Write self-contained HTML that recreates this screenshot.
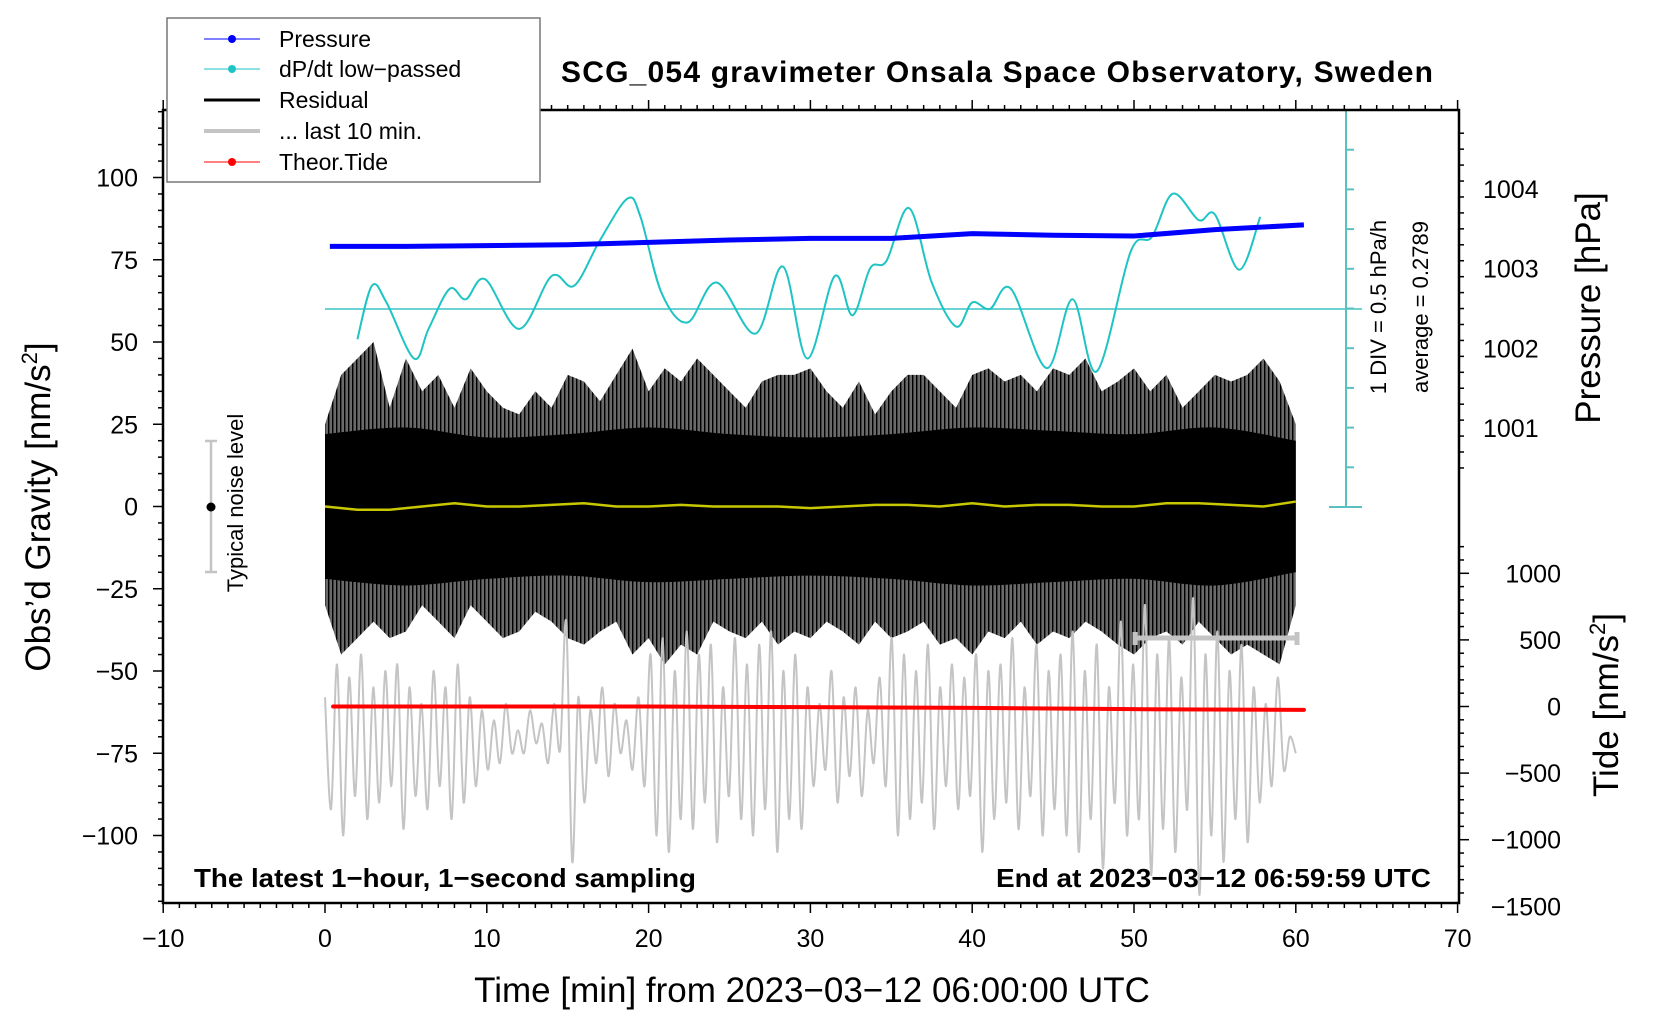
<!DOCTYPE html>
<html><head><meta charset="utf-8"><style>
html,body{margin:0;padding:0;background:#fff;}
svg{display:block;font-family:"Liberation Sans",sans-serif;}
</style></head><body>
<svg id="c" width="1660" height="1020" viewBox="0 0 1660 1020" xmlns="http://www.w3.org/2000/svg">
<defs><pattern id="spk" width="4" height="10" patternUnits="userSpaceOnUse"><rect x="0" y="0" width="1.6" height="10" fill="#000"/><rect x="1.6" y="0" width="2.4" height="10" fill="#6a6a6a"/></pattern></defs>
</svg>
<script>
// ---- data ----
const pressureTimes = [0.3,5,10,15,20,25,30,35,40,45,50,55,60.5];
const pressureVals = [1003.28,1003.28,1003.29,1003.30,1003.33,1003.36,1003.38,1003.38,1003.44,1003.42,1003.41,1003.49,1003.55];
const dpdtTimes = [2.0,2.9,3.8,5.5,6.4,7.7,8.7,9.9,12,14,15.4,17,18.7,19.5,20.8,22.4,24.2,26.6,28.3,29.8,31.5,32.6,33.7,34.7,36.1,37.5,39,40,41.1,42.4,44.6,46.2,47.7,49.8,51.1,52.4,54,55,56.5,57.8];
const dpdtVals = [-0.10,0.57,0.36,-0.34,0.03,0.53,0.40,0.65,0.03,0.69,0.57,1.14,1.66,1.43,0.48,0.11,0.61,-0.03,0.81,-0.34,0.69,0.20,0.79,0.88,1.54,0.61,0.06,0.36,0.28,0.53,-0.46,0.40,-0.50,1.00,1.18,1.72,1.39,1.46,0.77,1.43];
const dpdtAverage = 0.2789;
const residHi = [25,40,45,50,30,45,35,40,30,42,35,30,28,35,30,40,38,32,40,48,35,42,38,45,40,35,30,38,40,40,42,35,30,38,28,35,40,40,35,30,40,42,38,40,35,42,40,45,35,38,42,35,40,30,35,40,38,40,45,38,25];
const residLo = [-30,-45,-40,-35,-40,-38,-30,-35,-40,-30,-35,-40,-38,-32,-35,-40,-42,-38,-35,-45,-40,-48,-42,-45,-35,-38,-40,-35,-42,-38,-40,-35,-38,-42,-35,-40,-38,-35,-42,-40,-45,-38,-40,-35,-42,-38,-40,-35,-38,-42,-45,-40,-38,-42,-35,-40,-45,-42,-45,-48,-30];
const coreHi = [22,24,21,22,24,22,21,22,24,23,22,24,20];
const coreLo = [-22,-24,-22,-21,-23,-22,-21,-22,-24,-23,-22,-24,-20];
const meanVals = [0,-1,-1,0,1,0,0,0.5,1,0,0,0.5,0,0,0,-0.5,0,0.5,0.5,0,1,0,0.5,0.5,0,0,1,1,0.5,0,1.5];
const tideTimes = [0.5,10,20,30,40,50,60.5];
const tideVals = [0,0,0,-5,-10,-20,-25];
const lastVals = [-58,-92,-48,-100,-52,-88,-45,-95,-55,-90,-50,-85,-48,-98,-55,-88,-60,-92,-50,-85,-55,-95,-48,-90,-58,-85,-62,-80,-65,-78,-60,-75,
-68,-75,-62,-72,-66,-78,-60,-74,
-35,-108,-58,-90,-62,-78,-55,-82,-60,-75,-65,-80,-58,-85,
-45,-100,-40,-105,-50,-95,-38,-98,-45,-90,-42,-102,-55,-88,-40,-95,-48,-100,-42,-92,-38,-105,-50,-95,-45,-98,
-55,-85,-60,-80,-50,-90,-58,-82,-55,-88,-62,-78,-52,-85,
-40,-100,-45,-95,-50,-90,-42,-98,-55,-85,-48,-92,-52,-88,
-45,-105,-50,-95,-48,-90,-40,-98,-55,-88,-42,-100,-50,-92,
-45,-100,-38,-105,-50,-95,-42,-110,-55,-90,-35,-100,-48,-95,-30,-112,-45,-98,-40,-105,-52,-92,-28,-118,-45,-100,-38,-108,-50,-95,-42,-102,-55,-90,-60,-85,-52,-80,-70,-75];
const lastStart = 0, lastEnd = 60;
const xTicks = [-10,0,10,20,30,40,50,60,70];
const yTicks = [-100,-75,-50,-25,0,25,50,75,100];
const pTicks = [1001,1002,1003,1004];
const tTicks = [-1500,-1000,-500,0,500,1000];

// ---- axes ----
const L=163,R=1459,T=110,B=903;
const X=t=>325+t*16.18;
const Y=v=>506.5-v*3.29;
const YP=p=>189-(p-1004)*79.7;
const YT=v=>706.5-v*0.1332;
const YR=r=>309-(r-dpdtAverage)*80;
const svg=document.getElementById('c');
const NS='http://www.w3.org/2000/svg';
function mk(tag,attrs,parent){const e=document.createElementNS(NS,tag);for(const k in attrs)e.setAttribute(k,attrs[k]);(parent||svg).appendChild(e);return e;}
function smooth(pts){let d='M'+pts[0][0]+','+pts[0][1];for(let i=0;i<pts.length-1;i++){const p0=pts[i-1]||pts[i],p1=pts[i],p2=pts[i+1],p3=pts[i+2]||p2;const c1x=p1[0]+(p2[0]-p0[0])/6,c1y=p1[1]+(p2[1]-p0[1])/6,c2x=p2[0]-(p3[0]-p1[0])/6,c2y=p2[1]-(p3[1]-p1[1])/6;d+=` C${c1x},${c1y} ${c2x},${c2y} ${p2[0]},${p2[1]}`;}return d;}
function txt(s,x,y,size,attrs){const e=mk('text',Object.assign({x:x,y:y,'font-size':size},attrs||{}));e.textContent=s;return e;}

// residual band
let ptsHi=residHi.map((v,i)=>[X(i),Y(v)]), ptsLo=residLo.map((v,i)=>[X(i),Y(v)]);
let band=mk('path',{d:'M'+ptsHi.map(p=>p.join(',')).join(' L')+' L'+ptsLo.reverse().map(p=>p.join(',')).join(' L')+'Z',fill:'url(#spk)'});


let cH=coreHi.map((v,i)=>[X(i*5),Y(v)]), cL=coreLo.map((v,i)=>[X(i*5),Y(v)]);
let core=mk('path',{d:smooth(cH)+' L'+smooth(cL.reverse()).slice(1)+'Z',fill:'#000'});


// residual mean
let mean=mk('path',{d:'M'+meanVals.map((v,i)=>X(i*2)+','+Y(v)).join(' L'),fill:'none',stroke:'#c8c800','stroke-width':2.5});


// last 10 min / gray
const n=lastVals.length;
let gp=lastVals.map((v,i)=>[X(lastStart+(lastEnd-lastStart)*i/(n-1)),Y(v)]);
let gray=mk('path',{d:smooth(gp),fill:'none',stroke:'#c4c4c4','stroke-width':2});


// tide
let tide=mk('path',{d:'M'+tideTimes.map((t,i)=>X(t)+','+YT(tideVals[i])).join(' L'),fill:'none',stroke:'#f00','stroke-width':4,'stroke-linecap':'round'});


// cyan avg line & bracket
let avg=mk('line',{x1:X(0),x2:1362,y1:YR(dpdtAverage),y2:YR(dpdtAverage),stroke:'#3cc4c4','stroke-width':1.5});


let cg=mk('g',{stroke:'#5bc0c0','stroke-width':2});


mk('line',{x1:1346,x2:1346,y1:110,y2:507},cg);
mk('line',{x1:1329,x2:1362,y1:110,y2:110},cg);
mk('line',{x1:1329,x2:1362,y1:507,y2:507},cg);
for(let k=1;k<10;k++){mk('line',{x1:1346,x2:1354,y1:507-k*39.7,y2:507-k*39.7},cg);}
// dpdt
let dp=mk('path',{d:smooth(dpdtTimes.map((t,i)=>[X(t),YR(dpdtVals[i])])),fill:'none',stroke:'#1ec4c4','stroke-width':2});


// pressure
let pr=mk('path',{d:'M'+pressureTimes.map((t,i)=>X(t)+','+YP(pressureVals[i])).join(' L'),fill:'none',stroke:'#0000ff','stroke-width':5});



// noise bar
let nb=mk('g',{});


mk('line',{x1:211,x2:211,y1:441,y2:572,stroke:'#c4c4c4','stroke-width':2.5},nb);
mk('line',{x1:205,x2:217,y1:441,y2:441,stroke:'#c4c4c4','stroke-width':2.5},nb);
mk('line',{x1:205,x2:217,y1:572,y2:572,stroke:'#c4c4c4','stroke-width':2.5},nb);
mk('circle',{cx:211,cy:507,r:4.5,fill:'#000'},nb);
let nt=txt('Typical noise level',0,0,22,{'text-anchor':'middle',transform:'translate(243,503) rotate(-90)'});


// gray bar 10 min
let gb=mk('g',{stroke:'#c4c4c4','stroke-width':5});


mk('line',{x1:1135,x2:1297,y1:638,y2:638},gb);
mk('line',{x1:1135,x2:1135,y1:632,y2:645},gb);
mk('line',{x1:1297,x2:1297,y1:632,y2:645},gb);

// frame & ticks
let fr=mk('rect',{x:L,y:T,width:R-L,height:B-T,fill:'none',stroke:'#000','stroke-width':2.5});


let tk=mk('g',{stroke:'#000','stroke-width':1.5});


for(let t=-10;t<=70;t++){const maj=t%10===0,len=maj?10:5;mk('line',{x1:X(t),x2:X(t),y1:B,y2:B+len},tk);mk('line',{x1:X(t),x2:X(t),y1:T,y2:T-len},tk);}
for(let v=-120;v<=120;v+=5){const maj=v%25===0;mk('line',{x1:L,x2:L-(maj?10:5),y1:Y(v),y2:Y(v)},tk);}
for(let p=10005;p<=10048;p+=2){const pv=p/10;const maj=p%10===0;const y=YP(pv);if(y<T||y>520)continue;mk('line',{x1:R,x2:R+(maj?10:5),y1:y,y2:y},tk);}
for(let v=-1500;v<=1300;v+=100){const y=YT(v);if(y<540||y>B)continue;mk('line',{x1:R,x2:R+(v%500===0?10:5),y1:y,y2:y},tk);}
// tick labels
xTicks.forEach(t=>{const e=txt(String(t).replace('-','\u2212'),X(t),947,25,{'text-anchor':'middle'});});
yTicks.forEach(v=>{const e=txt(String(v).replace('-','\u2212'),138,Y(v)+9,25,{'text-anchor':'end'});});
pTicks.forEach(p=>{const e=txt(String(p),1483,YP(p)+9,25,{});});
tTicks.forEach(v=>{const e=txt(String(v).replace('-','\u2212'),1561,YT(v)+9,25,{'text-anchor':'end'});});

// titles
let ti=txt('SCG_054 gravimeter Onsala Space Observatory, Sweden',997,82,30,{'text-anchor':'middle','font-weight':'bold',textLength:872});

let xl=txt('Time [min] from 2023\u221203\u221212 06:00:00 UTC',812,1002,35,{'text-anchor':'middle'});

let yl=mk('text',{'font-size':35,'text-anchor':'middle',transform:'translate(50,507) rotate(-90)'});
yl.innerHTML='Obs\u2019d Gravity [nm/s<tspan font-size="22" dy="-13">2</tspan><tspan dy="13">]</tspan>';

let pl=txt('Pressure [hPa]',0,0,35,{'text-anchor':'middle',transform:'translate(1600,308) rotate(-90)'});

let tl=mk('text',{'font-size':35,'text-anchor':'middle',transform:'translate(1618,705) rotate(-90)'});
tl.innerHTML='Tide [nm/s<tspan font-size="22" dy="-13">2</tspan><tspan dy="13">]</tspan>';

let d1=txt('1 DIV = 0.5 hPa/h',0,0,22,{'text-anchor':'middle',transform:'translate(1386,307) rotate(-90)'});

let d2=txt('average = 0.2789',0,0,22,{'text-anchor':'middle',transform:'translate(1428,307) rotate(-90)'});

let s1=txt('The latest 1\u2212hour, 1\u2212second sampling',194,887,26,{'font-weight':'bold',textLength:502,lengthAdjust:'spacingAndGlyphs'});

let s2=txt('End at 2023\u221203\u221212 06:59:59 UTC',1431,887,26,{'font-weight':'bold','text-anchor':'end',textLength:435,lengthAdjust:'spacingAndGlyphs'});


// legend
let lg=mk('g',{});

mk('rect',{x:167,y:18,width:373,height:164,fill:'#fff',stroke:'#777','stroke-width':1.5},lg);
const leg=[['Pressure','#0000ff',1,true,39],['dP/dt low\u2212passed','#1ec4c4',1,true,69],['Residual','#000',3,false,100],['... last 10 min.','#c4c4c4',4,false,131],['Theor.Tide','#ff0000',1,true,162]];
leg.forEach(l=>{const g=mk('g',{},lg);
mk('line',{x1:204,x2:260,y1:l[4],y2:l[4],stroke:l[1],'stroke-width':l[2]},g);
if(l[3])mk('circle',{cx:232,cy:l[4],r:4,fill:l[1]},g);
const e=txt(l[0],279,l[4]+8,23,{},);g.appendChild(e);});
</script>
</body></html>
